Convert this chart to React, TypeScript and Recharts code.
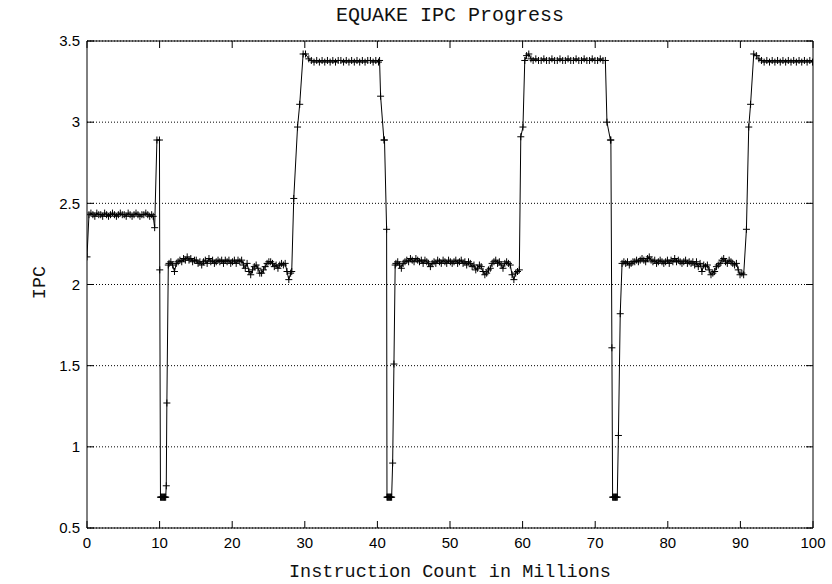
import React from 'react';
import { LineChart, Line, XAxis, YAxis, CartesianGrid, ReferenceLine } from 'recharts';

// samples as [instruction count in millions, IPC]
const warmupPhase: [number, number][] = [
  [0, 2.17], [0.27, 2.43], [0.54, 2.44], [0.81, 2.43], [1.08, 2.42], [1.35, 2.44], [1.62, 2.43],
  [1.89, 2.43], [2.16, 2.42], [2.43, 2.44], [2.7, 2.43], [2.97, 2.42], [3.24, 2.43], [3.51, 2.44],
  [3.78, 2.43], [4.05, 2.42], [4.32, 2.43], [4.59, 2.44], [4.86, 2.43], [5.13, 2.43], [5.4, 2.42],
  [5.67, 2.44], [5.94, 2.43], [6.21, 2.42], [6.48, 2.43], [6.75, 2.44], [7.02, 2.43], [7.29, 2.42],
  [7.56, 2.43], [7.83, 2.43], [8.1, 2.44], [8.37, 2.43], [8.64, 2.42], [8.91, 2.43], [9.12, 2.42],
];

const dropOne: [number, number][] = [
  [9.32, 2.35], [9.63, 2.89], [9.98, 2.89], [10.02, 2.09], [10.12, 0.69], [10.2, 0.69], [10.28, 0.69],
  [10.36, 0.69], [10.44, 0.69], [10.52, 0.69], [10.6, 0.69], [10.68, 0.69], [10.76, 0.69], [10.84, 0.69],
  [10.92, 0.76], [11.0, 1.27], [11.2, 2.12],
];

const lowPhaseOne: [number, number][] = [
  [11.3, 2.13], [11.55, 2.14], [11.8, 2.12], [12.05, 2.08], [12.3, 2.13], [12.55, 2.14], [12.8, 2.15],
  [13.05, 2.14], [13.3, 2.16], [13.55, 2.15], [13.8, 2.17], [14.05, 2.15], [14.3, 2.16], [14.55, 2.14],
  [14.8, 2.15], [15.05, 2.15], [15.3, 2.13], [15.55, 2.14], [15.8, 2.12], [16.05, 2.14], [16.3, 2.15],
  [16.55, 2.13], [16.8, 2.16], [17.05, 2.14], [17.3, 2.15], [17.55, 2.13], [17.8, 2.14], [18.05, 2.15],
  [18.3, 2.14], [18.55, 2.15], [18.8, 2.13], [19.05, 2.15], [19.3, 2.14], [19.55, 2.15], [19.8, 2.13],
  [20.05, 2.14], [20.3, 2.15], [20.55, 2.13], [20.8, 2.15], [21.05, 2.14], [21.3, 2.15], [21.55, 2.12],
  [21.8, 2.1], [22.05, 2.13], [22.3, 2.08], [22.55, 2.06], [22.8, 2.09], [23.05, 2.11], [23.3, 2.12],
  [23.55, 2.1], [23.8, 2.07], [24.05, 2.07], [24.3, 2.09], [24.55, 2.11], [24.8, 2.13], [25.05, 2.14],
  [25.3, 2.14], [25.55, 2.13], [25.8, 2.11], [26.05, 2.12], [26.3, 2.1], [26.55, 2.12], [26.8, 2.13],
  [27.05, 2.12], [27.3, 2.13], [27.55, 2.08], [27.8, 2.03], [28.05, 2.07], [28.2, 2.08],
];

const riseOne: [number, number][] = [
  [28.48, 2.53], [29.0, 2.97], [29.3, 3.11], [29.77, 3.42], [30.1, 3.42], [30.55, 3.39],
];

const highPhaseOne: [number, number][] = [
  [30.9, 3.38], [31.27, 3.37], [31.64, 3.38], [32.01, 3.37], [32.38, 3.38], [32.75, 3.37], [33.12, 3.38],
  [33.49, 3.37], [33.86, 3.38], [34.23, 3.37], [34.6, 3.38], [34.97, 3.38], [35.34, 3.37], [35.71, 3.38],
  [36.08, 3.37], [36.45, 3.38], [36.82, 3.37], [37.19, 3.38], [37.56, 3.37], [37.93, 3.38], [38.3, 3.37],
  [38.67, 3.38], [39.04, 3.38], [39.41, 3.37], [39.78, 3.38], [40.15, 3.37], [40.3, 3.38],
];

const dropTwo: [number, number][] = [
  [40.44, 3.16], [40.9, 2.89], [40.98, 2.89], [41.27, 2.34], [41.32, 0.69], [41.4, 0.69], [41.48, 0.69],
  [41.56, 0.69], [41.64, 0.69], [41.72, 0.69], [41.8, 0.69], [41.88, 0.69], [41.96, 0.69], [42.1, 0.9],
  [42.28, 1.51], [42.45, 2.12],
];

const lowPhaseTwo: [number, number][] = [
  [42.55, 2.13], [42.8, 2.14], [43.05, 2.12], [43.3, 2.1], [43.55, 2.13], [43.8, 2.14], [44.05, 2.15],
  [44.3, 2.14], [44.55, 2.16], [44.8, 2.15], [45.05, 2.14], [45.3, 2.16], [45.55, 2.15], [45.8, 2.14],
  [46.05, 2.15], [46.3, 2.13], [46.55, 2.15], [46.8, 2.14], [47.05, 2.13], [47.3, 2.11], [47.55, 2.13],
  [47.8, 2.14], [48.05, 2.13], [48.3, 2.15], [48.55, 2.14], [48.8, 2.13], [49.05, 2.15], [49.3, 2.14],
  [49.55, 2.13], [49.8, 2.15], [50.05, 2.14], [50.3, 2.13], [50.55, 2.14], [50.8, 2.15], [51.05, 2.13],
  [51.3, 2.14], [51.55, 2.15], [51.8, 2.13], [52.05, 2.14], [52.3, 2.12], [52.55, 2.14], [52.8, 2.13],
  [53.05, 2.11], [53.3, 2.12], [53.55, 2.09], [53.8, 2.1], [54.05, 2.12], [54.3, 2.11], [54.55, 2.08],
  [54.8, 2.06], [55.05, 2.07], [55.3, 2.09], [55.55, 2.1], [55.8, 2.13], [56.05, 2.14], [56.3, 2.15],
  [56.55, 2.13], [56.8, 2.14], [57.05, 2.12], [57.3, 2.1], [57.55, 2.13], [57.8, 2.14], [58.05, 2.13],
  [58.3, 2.12], [58.55, 2.06], [58.8, 2.03], [59.05, 2.07], [59.3, 2.08],
];

const riseTwo: [number, number][] = [
  [59.55, 2.09], [59.75, 2.91], [60.05, 2.97], [60.3, 3.38], [60.55, 3.41], [60.85, 3.42], [61.15, 3.39],
];

const highPhaseTwo: [number, number][] = [
  [61.45, 3.38], [61.82, 3.39], [62.19, 3.38], [62.56, 3.38], [62.93, 3.39], [63.3, 3.38], [63.67, 3.38],
  [64.04, 3.39], [64.41, 3.38], [64.78, 3.38], [65.15, 3.39], [65.52, 3.38], [65.89, 3.38], [66.26, 3.39],
  [66.63, 3.38], [67.0, 3.38], [67.37, 3.39], [67.74, 3.38], [68.11, 3.38], [68.48, 3.39], [68.85, 3.38],
  [69.22, 3.38], [69.59, 3.39], [69.96, 3.38], [70.33, 3.38], [70.7, 3.39], [71.07, 3.38], [71.4, 3.38],
];

const dropThree: [number, number][] = [
  [71.62, 3.0], [72.1, 2.89], [72.16, 2.89], [72.3, 1.61], [72.4, 0.69], [72.48, 0.69], [72.56, 0.69],
  [72.64, 0.69], [72.72, 0.69], [72.8, 0.69], [72.88, 0.69], [72.96, 0.69], [73.04, 0.69], [73.2, 1.07],
  [73.45, 1.82],
];

const lowPhaseThree: [number, number][] = [
  [73.7, 2.13], [73.95, 2.14], [74.2, 2.13], [74.45, 2.14], [74.7, 2.12], [74.95, 2.13], [75.2, 2.14],
  [75.45, 2.14], [75.7, 2.15], [75.95, 2.14], [76.2, 2.15], [76.45, 2.16], [76.7, 2.15], [76.95, 2.14],
  [77.2, 2.16], [77.45, 2.17], [77.7, 2.15], [77.95, 2.14], [78.2, 2.15], [78.45, 2.13], [78.7, 2.14],
  [78.95, 2.15], [79.2, 2.14], [79.45, 2.13], [79.7, 2.14], [79.95, 2.15], [80.2, 2.13], [80.45, 2.15],
  [80.7, 2.14], [80.95, 2.16], [81.2, 2.14], [81.45, 2.15], [81.7, 2.14], [81.95, 2.13], [82.2, 2.14],
  [82.45, 2.15], [82.7, 2.13], [82.95, 2.14], [83.2, 2.13], [83.45, 2.14], [83.7, 2.12], [83.95, 2.14],
  [84.2, 2.11], [84.45, 2.13], [84.7, 2.08], [84.95, 2.12], [85.2, 2.11], [85.45, 2.12], [85.7, 2.09],
  [85.95, 2.06], [86.2, 2.07], [86.45, 2.08], [86.7, 2.11], [86.95, 2.12], [87.2, 2.13], [87.45, 2.15],
  [87.7, 2.16], [87.95, 2.14], [88.2, 2.13], [88.45, 2.15], [88.7, 2.14], [88.95, 2.13], [89.2, 2.12],
  [89.45, 2.13], [89.7, 2.09], [89.95, 2.06], [90.2, 2.07], [90.45, 2.06],
];

const riseThree: [number, number][] = [
  [90.83, 2.34], [91.15, 2.97], [91.4, 3.11], [91.84, 3.42], [92.2, 3.41], [92.55, 3.39],
];

const highPhaseThree: [number, number][] = [
  [92.9, 3.38], [93.27, 3.37], [93.64, 3.38], [94.01, 3.37], [94.38, 3.38], [94.75, 3.37], [95.12, 3.38],
  [95.49, 3.37], [95.86, 3.38], [96.23, 3.37], [96.6, 3.38], [96.97, 3.37], [97.34, 3.38], [97.71, 3.37],
  [98.08, 3.38], [98.45, 3.37], [98.82, 3.38], [99.19, 3.37], [99.56, 3.38], [99.93, 3.37],
];

const xTicks = [0, 10, 20, 30, 40, 50, 60, 70, 80, 90, 100];
const yTicks = [0.5, 1, 1.5, 2, 2.5, 3, 3.5];

const data = [
  ...warmupPhase, ...dropOne, ...lowPhaseOne, ...riseOne, ...highPhaseOne,
  ...dropTwo, ...lowPhaseTwo, ...riseTwo, ...highPhaseTwo,
  ...dropThree, ...lowPhaseThree, ...riseThree, ...highPhaseThree,
].map(([x, ipc]) => ({ x, ipc }));

// plot box, matches the chart margins below
const PLOT_LEFT = 87;
const PLOT_RIGHT = 813;
const PLOT_TOP = 41;
const PLOT_BOTTOM = 528;
const TICK_LEN = 7;

const monoFont = '"Liberation Mono", "DejaVu Sans Mono", monospace';
const sansFont = '"Liberation Sans", Arial, sans-serif';

// gnuplot style: label outside, tick marks inward on both opposite borders
const XTick = (props: any) => {
  const { x, y, payload } = props;
  return (
    <g>
      <line x1={x} x2={x} y1={PLOT_BOTTOM} y2={PLOT_BOTTOM - TICK_LEN} stroke="#000" />
      <line x1={x} x2={x} y1={PLOT_TOP} y2={PLOT_TOP + TICK_LEN} stroke="#000" />
      <text x={x} y={y} dy="0.71em" textAnchor="middle" fontSize={15} fontFamily={sansFont} fill="#000">
        {payload.value}
      </text>
    </g>
  );
};

const YTick = (props: any) => {
  const { x, y, payload } = props;
  return (
    <g>
      <line x1={PLOT_LEFT} x2={PLOT_LEFT + TICK_LEN} y1={y} y2={y} stroke="#000" />
      <line x1={PLOT_RIGHT} x2={PLOT_RIGHT - TICK_LEN} y1={y} y2={y} stroke="#000" />
      <text x={x} y={y} dy="0.355em" textAnchor="end" fontSize={15} fontFamily={sansFont} fill="#000">
        {payload.value}
      </text>
    </g>
  );
};

const PlusDot = (props: any) => {
  const { cx, cy, index } = props;
  if (cx == null || cy == null) return <g key={index} />;
  return (
    <path
      key={index}
      d={`M${cx - 3.5},${cy}h7M${cx},${cy - 3.5}v7`}
      stroke="#000"
      strokeWidth={1}
      fill="none"
    />
  );
};

export default function App() {
  return (
    <div style={{ position: 'absolute', left: 0, top: 0, width: 832, height: 584, background: '#fff' }}>
      <LineChart width={832} height={584} data={data} margin={{ top: 41, right: 19, bottom: 26, left: 0 }}>
        <CartesianGrid vertical={false} stroke="#000" strokeDasharray="1 2" />
        <XAxis
          dataKey="x"
          type="number"
          domain={[0, 100]}
          ticks={xTicks}
          interval={0}
          allowDataOverflow
          height={30}
          tickLine={false}
          tickSize={0}
          tickMargin={9}
          axisLine={{ stroke: '#000' }}
          tick={XTick}
        />
        <YAxis
          dataKey="ipc"
          type="number"
          width={87}
          domain={[0.5, 3.5]}
          ticks={yTicks}
          interval={0}
          allowDataOverflow
          tickLine={false}
          tickSize={0}
          tickMargin={7}
          axisLine={{ stroke: '#000' }}
          tick={YTick}
        />
        <ReferenceLine y={3.5} stroke="#000" />
        <ReferenceLine x={100} stroke="#000" />
        <Line
          type="linear"
          dataKey="ipc"
          stroke="#000"
          strokeWidth={1}
          dot={PlusDot}
          activeDot={false}
          isAnimationActive={false}
        />
      </LineChart>
      <div
        style={{
          position: 'absolute', left: 0, top: 6, width: 900, textAlign: 'center',
          fontFamily: monoFont, fontSize: 20, lineHeight: '20px', color: '#111',
        }}
      >
        EQUAKE IPC Progress
      </div>
      <div
        style={{
          position: 'absolute', left: 0, top: 563, width: 900, textAlign: 'center',
          fontFamily: monoFont, fontSize: 18.5, lineHeight: '19px', color: '#111',
        }}
      >
        Instruction Count in Millions
      </div>
      <div style={{ position: 'absolute', left: 40, top: 283, width: 0, height: 0 }}>
        <div
          style={{
            position: 'absolute', left: -50, top: -10, width: 100, textAlign: 'center',
            transform: 'rotate(-90deg)', fontFamily: monoFont, fontSize: 18.5, lineHeight: '19px', color: '#111',
          }}
        >
          IPC
        </div>
      </div>
    </div>
  );
}
